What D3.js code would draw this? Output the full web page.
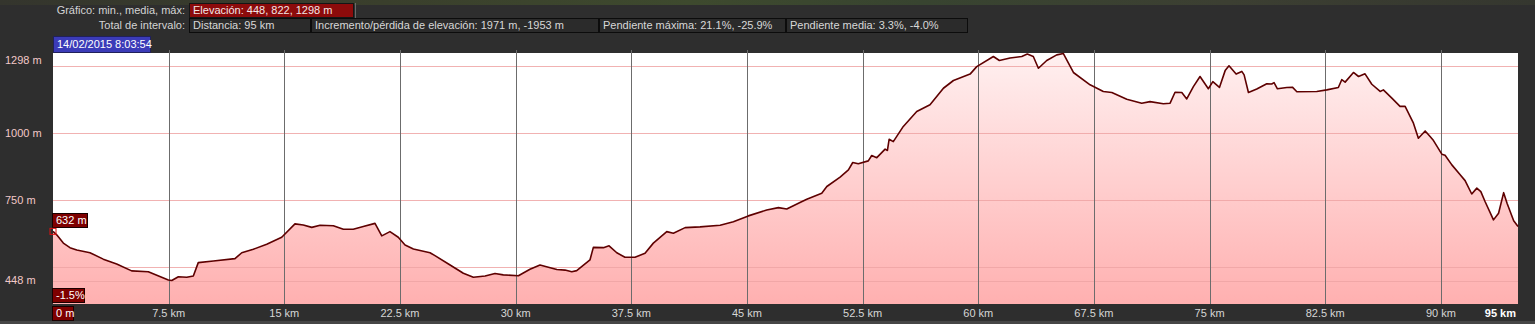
<!DOCTYPE html>
<html>
<head>
<meta charset="utf-8">
<script src="https://cdnjs.cloudflare.com/ajax/libs/d3/7.8.5/d3.min.js"></script>
<style>
    body { margin: 0; background: #2e2e2e; overflow: hidden; }
    svg { display: block; font-family: "Liberation Sans", Arial, sans-serif; font-size: 11px; }
</style>
</head>
<body>
<div id="chart"></div>
<script>

// Elevation profile (distance in km, elevation in m)
var distKm = [0, 0.24, 0.67, 1.10, 1.54, 2.40, 3.26, 4.13, 5.10, 6.18, 7.48, 7.70, 8.13, 8.67, 9.10, 9.42,
    10.40, 11.80, 12.24, 12.99, 13.86, 14.83, 15.69, 16.23, 16.78, 17.32, 18.18, 18.83, 19.47, 20.12, 20.88,
    21.32, 21.85, 22.39, 22.83, 23.37, 24.45, 24.77, 25.75, 26.61, 27.26, 28.02, 28.66, 29.20, 30.18, 30.93,
    31.58, 32.67, 33.20, 33.64, 33.96, 34.82, 35.04, 35.69, 36.06, 36.56, 37.09, 37.74, 38.39, 38.93, 39.80,
    40.23, 40.99, 41.96, 43.26, 44.12, 45.09, 46.28, 47.04, 47.58, 48.44, 48.88, 49.85, 50.18, 51.04, 51.58,
    51.86, 52.22, 52.87, 53.09, 53.42, 53.96, 54.11, 54.22, 54.49, 55.14, 56.01, 56.87, 57.74, 58.39, 59.47,
    59.90, 60.98, 61.37, 62.06, 62.82, 63.18, 63.57, 63.90, 64.44, 65.09, 65.52, 66.17, 67.25, 68.11, 68.66,
    69.63, 70.60, 71.14, 72.00, 72.44, 72.76, 73.20, 73.52, 73.95, 74.38, 74.92, 75.21, 75.64, 76.01, 76.26,
    76.72, 77.09, 77.24, 77.52, 78.06, 78.71, 79.03, 79.18, 79.40, 80.01, 80.37, 80.66, 81.95, 82.60, 83.35,
    83.57, 83.79, 84.33, 84.66, 85.08, 85.52, 86.06, 86.27, 86.82, 87.35, 87.68, 88.22, 88.54, 88.98, 89.30,
    89.52, 90.06, 90.27, 90.71, 91.25, 91.57, 92.00, 92.33, 92.59, 92.87, 93.41, 93.74, 94.07, 94.29, 94.72, 95.00];

var elevM = [632, 619, 588, 571, 562, 552, 528, 510, 484, 481, 450, 448, 462, 460, 465, 515,
    521, 530, 552, 565, 584, 610, 660, 656, 647, 655, 653, 640, 640, 650, 662,
    615, 631, 610, 581, 566, 552, 541, 506, 475, 460, 465, 474, 469, 466, 490,
    506, 489, 487, 481, 485, 525, 572, 571, 578, 552, 535, 535, 550, 588, 631,
    625, 646, 649, 655, 668, 690, 712, 721, 716, 740, 752, 775, 800, 835, 862,
    890, 885, 896, 916, 908, 940, 935, 977, 968, 1025, 1081, 1106, 1168, 1197, 1221,
    1249, 1287, 1272, 1281, 1287, 1296, 1287, 1243, 1272, 1293, 1298, 1227, 1181, 1156, 1152,
    1127, 1112, 1118, 1110, 1112, 1153, 1152, 1128, 1174, 1212, 1166, 1193, 1171, 1234, 1252,
    1221, 1231, 1218, 1152, 1165, 1185, 1184, 1189, 1166, 1171, 1172, 1155, 1156, 1162, 1171,
    1200, 1191, 1227, 1212, 1222, 1183, 1156, 1162, 1131, 1100, 1100, 1037, 981, 1008, 987,
    972, 921, 917, 881, 844, 822, 772, 794, 781, 743, 675, 700, 777, 737, 672, 650];

// Axis ticks
var xTickValues = [7.5, 15, 22.5, 30, 37.5, 45, 52.5, 60, 67.5, 75, 82.5, 90];
var xTickLabels = ["7.5 km", "15 km", "22.5 km", "30 km", "37.5 km", "45 km", "52.5 km", "60 km",
    "67.5 km", "75 km", "82.5 km", "90 km"];
var yGridValues = [1250, 1000, 750, 500, 448];
var yLabelValues = [1298, 1000, 750, 448];
var yLabelTexts = ["1298 m", "1000 m", "750 m", "448 m"];

// Header texts
var row1Label = "Gráfico: min., media, máx:";
var row1Boxes = ["Elevación: 448, 822, 1298 m"];
var row2Label = "Total de intervalo:";
var row2Boxes = ["Distancia: 95 km", "Incremento/pérdida de elevación: 1971 m, -1953 m",
    "Pendiente máxima: 21.1%, -25.9%", "Pendiente media: 3.3%, -4.0%"];
var dateLabel = "14/02/2015 8:03:54";
var startLabel = "632 m";
var slopeLabel = "-1.5%";
var originLabel = "0 m";
var endLabel = "95 km";

var W = 1535, H = 324;
var margin = { top: 53, right: 17, bottom: 20, left: 53 };
var plotW = W - margin.left - margin.right,
    plotH = H - margin.top - margin.bottom;

var svg = d3.select("#chart").append("svg")
    .attr("width", W)
    .attr("height", H);

// background + photo strip on top
svg.append("rect").attr("width", W).attr("height", H).attr("fill", "#2e2e2e");
var stripGrad = svg.append("defs").append("linearGradient")
    .attr("id", "strip").attr("x1", 0).attr("x2", 1).attr("y1", 0).attr("y2", 0);
[["0", "#34352d"], ["0.25", "#3a3f2c"], ["0.45", "#3e4a2e"], ["0.6", "#384430"], ["0.8", "#3c3f32"], ["1", "#35372f"]]
    .forEach(function(s) { stripGrad.append("stop").attr("offset", s[0]).attr("stop-color", s[1]); });
svg.append("rect").attr("width", W).attr("height", 5).attr("fill", "url(#strip)");
svg.append("rect").attr("y", H - 3).attr("width", W).attr("height", 3).attr("fill", "#464646");

// ---- header rows
function headerBox(x, y, w, h, fill, stroke, text, color) {
    svg.append("rect")
        .attr("x", x + 0.5).attr("y", y + 0.5)
        .attr("width", w).attr("height", h)
        .attr("fill", fill).attr("stroke", stroke);
    svg.append("text")
        .attr("x", x + 4).attr("y", y + h / 2 + 1)
        .attr("dominant-baseline", "middle")
        .attr("fill", color)
        .text(text);
}

svg.append("text").attr("x", 185).attr("y", 11).attr("text-anchor", "end")
    .attr("dominant-baseline", "middle").attr("fill", "#d4d4d4").text(row1Label);
headerBox(189, 3, 164, 14, "#8c0b0b", "#151515", row1Boxes[0], "#f2e6e6");
svg.append("line").attr("x1", 355.5).attr("x2", 355.5).attr("y1", 3).attr("y2", 18)
    .attr("stroke", "#6a6a6a");

svg.append("text").attr("x", 185).attr("y", 26).attr("text-anchor", "end")
    .attr("dominant-baseline", "middle").attr("fill", "#d4d4d4").text(row2Label);
var row2Edges = [189, 311, 599, 786, 968];
row2Boxes.forEach(function(t, i) {
    headerBox(row2Edges[i], 18, row2Edges[i + 1] - row2Edges[i] - 1, 14, "#2b2b2b", "#0c0c0c", t, "#d8d8d8");
});

headerBox(53, 36, 97, 16, "#3b3bb8", "#20205a", dateLabel, "#ffffff");

// ---- scales
var x = d3.scaleLinear().domain([0, 95]).range([margin.left, margin.left + plotW]);
var y = d3.scaleLinear().domain([360, 1300]).range([margin.top + plotH, margin.top]);

var profile = distKm.map(function(d, i) { return { km: d, m: elevM[i] }; });

// plot area
svg.append("rect")
    .attr("x", margin.left).attr("y", margin.top)
    .attr("width", plotW).attr("height", plotH)
    .attr("fill", "#ffffff");

var fillGrad = svg.select("defs").append("linearGradient")
    .attr("id", "fillGrad").attr("gradientUnits", "userSpaceOnUse")
    .attr("x1", 0).attr("x2", 0).attr("y1", margin.top).attr("y2", margin.top + plotH);
fillGrad.append("stop").attr("offset", "0").attr("stop-color", "#fff0f0");
fillGrad.append("stop").attr("offset", "1").attr("stop-color", "#ffb0b0");

var area = d3.area()
    .x(function(d) { return x(d.km); })
    .y0(margin.top + plotH)
    .y1(function(d) { return y(d.m); });

var line = d3.line()
    .x(function(d) { return x(d.km); })
    .y(function(d) { return y(d.m); });

svg.append("path").datum(profile)
    .attr("d", area)
    .attr("fill", "url(#fillGrad)");

// grid lines over the fill
svg.append("g").selectAll("line")
    .data(yGridValues)
    .enter().append("line")
    .attr("x1", margin.left).attr("x2", margin.left + plotW)
    .attr("y1", function(d) { return Math.round(y(d)) + 0.5; })
    .attr("y2", function(d) { return Math.round(y(d)) + 0.5; })
    .attr("stroke", "#eea4a4")
    .attr("stroke-opacity", 0.85);

svg.append("g").selectAll("line")
    .data(xTickValues)
    .enter().append("line")
    .attr("x1", function(d) { return Math.round(x(d)) + 0.5; })
    .attr("x2", function(d) { return Math.round(x(d)) + 0.5; })
    .attr("y1", margin.top - 3).attr("y2", margin.top + plotH)
    .attr("stroke", "#6c6c6c");

svg.append("path").datum(profile)
    .attr("d", line)
    .attr("fill", "none")
    .attr("stroke", "#5e0000")
    .attr("stroke-width", 1.6)
    .attr("stroke-linejoin", "round");

// ---- y labels
svg.append("g").selectAll("text")
    .data(yLabelValues)
    .enter().append("text")
    .attr("x", 5)
    .attr("y", function(d) { return Math.max(y(d), 60) + 1; })
    .attr("dominant-baseline", "middle")
    .attr("fill", "#f2c8c8")
    .text(function(d, i) { return yLabelTexts[i]; });

// ---- x labels
svg.append("g").selectAll("text")
    .data(xTickValues)
    .enter().append("text")
    .attr("x", function(d) { return x(d); })
    .attr("y", margin.top + plotH + 10)
    .attr("text-anchor", "middle")
    .attr("dominant-baseline", "middle")
    .attr("fill", "#d6d6d6")
    .text(function(d, i) { return xTickLabels[i]; });

svg.append("text")
    .attr("x", x(95) - 2).attr("y", margin.top + plotH + 10)
    .attr("text-anchor", "end").attr("dominant-baseline", "middle")
    .attr("fill", "#ffffff").attr("font-weight", "bold")
    .text(endLabel);

// ---- cursor boxes at the start of the track
headerBox(52, 213, 35, 14, "#7e0000", "#1a0000", startLabel, "#ffffff");
headerBox(52, 288, 32, 14, "#7e0000", "#1a0000", slopeLabel, "#ffffff");
headerBox(52, 306, 21, 14, "#7e0000", "#1a0000", originLabel, "#ffffff");

svg.append("rect")
    .attr("x", x(distKm[0]) - 3).attr("y", y(elevM[0]) - 3)
    .attr("width", 6).attr("height", 6)
    .attr("fill", "none").attr("stroke", "#e01010");

</script>
</body>
</html>
